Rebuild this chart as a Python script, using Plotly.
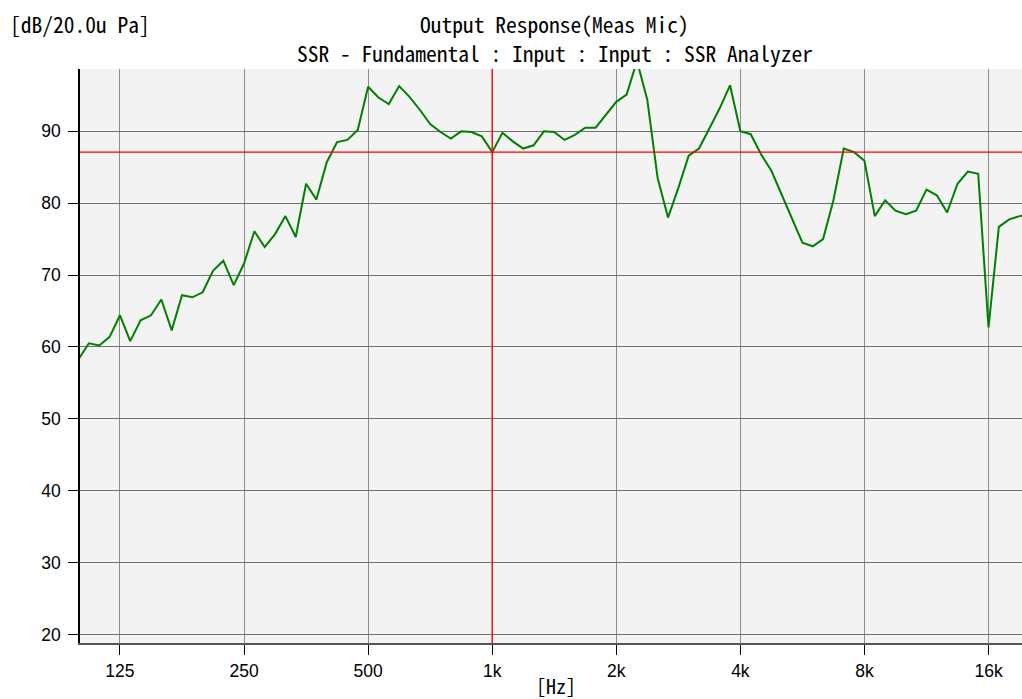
import math
import plotly.graph_objects as go

# 1/12-octave analysis frequencies [Hz]
freq_hz = [
    99.21, 105.1, 111.4, 118.0, 125.0, 132.4, 140.3, 148.7, 157.5, 166.9, 176.8, 187.3,
    198.4, 210.2, 222.7, 236.0, 250.0, 264.9, 280.6, 297.3, 315.0, 333.7, 353.6, 374.6,
    396.9, 420.4, 445.4, 471.9, 500.0, 529.7, 561.2, 594.6, 630.0, 667.4, 707.1, 749.2,
    793.7, 840.9, 890.9, 943.9, 1000, 1059, 1122, 1189, 1260, 1335, 1414, 1498,
    1587, 1682, 1782, 1888, 2000, 2119, 2245, 2378, 2520, 2670, 2828, 2997,
    3175, 3364, 3564, 3776, 4000, 4238, 4490, 4757, 5040, 5339, 5657, 5993,
    6350, 6727, 7127, 7551, 8000, 8476, 8980, 9514, 10079, 10679, 11314, 11986,
    12699, 13454, 14254, 15102, 16000, 16951, 17959, 19027, 20159,
]

# Output response level [dB re 20 uPa]
level_db = [
    58.3, 60.5, 60.2, 61.4, 64.4, 60.8, 63.7, 64.4, 66.6, 62.3, 67.2, 66.9,
    67.6, 70.6, 72.0, 68.6, 71.6, 76.1, 73.9, 75.7, 78.2, 75.3, 82.7, 80.5,
    85.7, 88.5, 88.8, 90.2, 96.2, 94.7, 93.8, 96.3, 94.8, 93.0, 91.0, 89.9,
    89.0, 90.0, 89.9, 89.3, 87.1, 89.8, 88.6, 87.6, 88.05, 90.0, 89.9, 88.8,
    89.5, 90.5, 90.5, 92.3, 94.1, 95.1, 99.8, 94.4, 83.5, 78.0, 82.1, 86.6,
    87.6, 90.4, 93.2, 96.4, 90.0, 89.6, 86.8, 84.5, 81.1, 77.9, 74.5, 74.0,
    75.0, 80.4, 87.6, 87.1, 85.9, 78.2, 80.4, 78.95, 78.45, 78.95, 81.9, 81.1,
    78.7, 82.7, 84.4, 84.1, 62.7, 76.7, 77.75, 78.2, 78.4,
]

# Reference cursor (1 kHz level)
ref_freq = 1000
ref_level = 87.1

x_tick_vals = [125, 250, 500, 1000, 2000, 4000, 8000, 16000]
x_tick_text = ["125", "250", "500", "1k", "2k", "4k", "8k", "16k"]
y_tick_vals = [20, 30, 40, 50, 60, 70, 80, 90]

x_range_hz = [100, 19290]
y_range_db = [18.8, 98.67]

MONO = "Noto Sans Mono CJK JP, DejaVu Sans Mono, monospace"
SANS = "Liberation Sans, Arial, sans-serif"

fig = go.Figure()
fig.add_trace(go.Scatter(
    x=freq_hz, y=level_db, mode="lines",
    line=dict(color="#008000", width=2),
    hoverinfo="x+y", showlegend=False,
))

fig.add_shape(type="line", xref="x", yref="paper", x0=ref_freq, x1=ref_freq, y0=0, y1=1,
              line=dict(color="#ff0000", width=1.3), layer="above")
fig.add_shape(type="line", xref="paper", yref="y", x0=0, x1=1, y0=ref_level, y1=ref_level,
              line=dict(color="#ff0000", width=1.3), layer="above")

fig.update_layout(
    width=1022, height=699,
    margin=dict(l=80, r=0, t=69, b=56, pad=0),
    paper_bgcolor="white",
    plot_bgcolor="#f3f3f3",
    showlegend=False,
    font=dict(family=SANS, size=17, color="black"),
    xaxis=dict(
        type="log",
        range=[math.log10(x_range_hz[0]), math.log10(x_range_hz[1])],
        tickmode="array", tickvals=x_tick_vals, ticktext=x_tick_text,
        showgrid=True, gridcolor="#8c8c8c", gridwidth=1.4,
        ticks="outside", ticklen=10, tickcolor="black", tickwidth=1.2,
        showline=True, linecolor="#555555", linewidth=1.5,
        zeroline=False,
        tickfont=dict(family=SANS, size=17.5, color="black"),
        ticklabelstandoff=1,
    ),
    yaxis=dict(
        range=y_range_db,
        tickmode="array", tickvals=y_tick_vals,
        showgrid=True, gridcolor="#707070", gridwidth=1.2,
        ticks="outside", ticklen=10, tickcolor="black", tickwidth=1.2,
        showline=True, linecolor="black", linewidth=1.5,
        zeroline=False,
        tickfont=dict(family=SANS, size=17.5, color="black"),
        ticklabelstandoff=4,
    ),
    annotations=[
        dict(text="[dB/20.0u Pa]", xref="paper", yref="paper", x=-0.0764, y=1.0784,
             xanchor="left", yanchor="middle", showarrow=False,
             font=dict(family=MONO, size=21.5, color="black")),
        dict(text="Output Response(Meas Mic)", xref="paper", yref="paper", x=0.5042, y=1.0784,
             xanchor="center", yanchor="middle", showarrow=False,
             font=dict(family=MONO, size=21.5, color="black")),
        dict(text="SSR - Fundamental : Input : Input : SSR Analyzer", xref="paper", yref="paper",
             x=0.5042, y=1.0296, xanchor="center", yanchor="middle", showarrow=False,
             font=dict(family=MONO, size=21.5, color="black")),
        dict(text="[Hz]", xref="paper", yref="paper", x=0.505, y=-0.0732,
             xanchor="center", yanchor="middle", showarrow=False,
             font=dict(family=MONO, size=20, color="black")),
    ],
)

fig.write_html(
    "out.html",
    config={"displayModeBar": False},
    post_script="document.body.style.margin='0px';document.body.style.overflow='hidden';",
)
